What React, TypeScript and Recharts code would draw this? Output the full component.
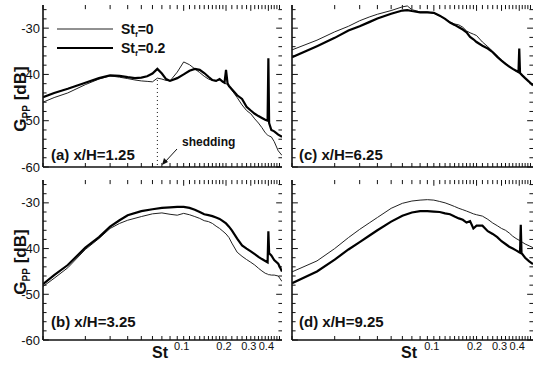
import React from 'react';
import { LineChart, Line, XAxis, YAxis, ReferenceLine } from 'recharts';

// ---------- data ----------
const ST_A = [0.01, 0.012, 0.015, 0.02, 0.025, 0.03, 0.035, 0.04, 0.045, 0.05, 0.055, 0.06, 0.065, 0.07, 0.075, 0.08, 0.09, 0.1, 0.11, 0.12, 0.13, 0.14, 0.15, 0.16, 0.17, 0.18, 0.19, 0.195, 0.2, 0.205, 0.21, 0.22, 0.24, 0.26, 0.28, 0.3, 0.32, 0.34, 0.36, 0.38, 0.395, 0.4, 0.405, 0.42, 0.44, 0.47, 0.5];
const G_A_F0 = [-46.0, -45.0, -44.0, -42.2, -41.0, -40.3, -40.6, -40.9, -41.2, -41.4, -41.5, -41.6, -40.8, -41.0, -41.3, -41.4, -39.5, -37.3, -37.9, -38.8, -39.6, -40.4, -41.0, -41.3, -41.4, -41.2, -41.6, -41.8, -42.0, -42.2, -42.6, -43.4, -45.0, -46.6, -47.8, -48.5, -49.6, -50.5, -51.5, -52.6, -53.1, -53.2, -53.3, -53.5, -54.5, -56.5, -57.5];
const G_A_F02 = [-44.9, -44.0, -43.1, -41.8, -40.8, -40.2, -40.3, -40.6, -40.8, -40.7, -40.4, -39.8, -38.8, -39.8, -41.0, -41.4, -40.8, -40.0, -39.2, -38.8, -39.0, -39.7, -40.5, -41.2, -41.4, -41.0, -41.6, -41.8, -39.0, -41.9, -42.5, -43.2, -44.5, -45.3, -47.0, -47.8, -48.5, -49.0, -49.4, -49.8, -50.0, -36.5, -50.5, -52.0, -52.3, -53.0, -53.5];

const ST_B = [0.01, 0.012, 0.015, 0.02, 0.025, 0.03, 0.035, 0.04, 0.05, 0.06, 0.07, 0.08, 0.09, 0.1, 0.11, 0.12, 0.13, 0.14, 0.15, 0.16, 0.17, 0.18, 0.19, 0.2, 0.21, 0.22, 0.24, 0.26, 0.28, 0.3, 0.32, 0.34, 0.36, 0.38, 0.395, 0.4, 0.405, 0.42, 0.44, 0.47, 0.5];
const G_B_F0 = [-48.3, -46.5, -44.2, -40.2, -37.8, -35.6, -34.5, -33.8, -33.0, -32.4, -32.2, -32.5, -32.7, -32.3, -32.6, -33.0, -33.4, -33.9, -34.1, -34.5, -35.1, -35.6, -36.2, -36.8, -37.6, -38.8, -40.8, -41.7, -42.4, -43.0, -43.6, -44.3, -44.9, -45.4, -45.6, -45.7, -45.7, -45.8, -45.8, -46.0, -47.2];
const G_B_F02 = [-47.8, -45.8, -43.6, -39.8, -37.5, -35.2, -33.8, -32.7, -31.8, -31.4, -31.1, -31.0, -30.9, -30.9, -31.1, -31.5, -32.0, -32.5, -32.7, -32.9, -33.2, -33.5, -34.0, -34.5, -35.2, -36.0, -37.8, -39.3, -40.0, -40.6, -41.2, -41.8, -42.3, -42.7, -43.0, -36.2, -41.0, -41.5, -42.5, -43.3, -45.0];

const ST_C = [0.01, 0.015, 0.02, 0.025, 0.03, 0.035, 0.04, 0.05, 0.06, 0.065, 0.07, 0.08, 0.09, 0.1, 0.11, 0.12, 0.13, 0.14, 0.15, 0.16, 0.17, 0.18, 0.19, 0.2, 0.22, 0.24, 0.26, 0.28, 0.3, 0.32, 0.34, 0.36, 0.38, 0.395, 0.4, 0.405, 0.42, 0.44, 0.47, 0.5];
const G_C_F0 = [-34.7, -32.6, -30.8, -29.6, -28.4, -27.6, -27.0, -26.2, -25.4, -25.2, -26.0, -26.5, -26.5, -26.8, -27.4, -28.0, -28.7, -29.1, -29.3, -29.8, -30.6, -31.0, -31.3, -31.6, -33.0, -34.0, -35.0, -36.0, -37.0, -37.6, -38.2, -38.8, -39.3, -39.5, -39.6, -39.8, -40.3, -40.8, -41.5, -42.2];
const G_C_F02 = [-36.3, -33.9, -32.1, -30.5, -29.6, -28.7, -27.9, -26.9, -26.2, -26.1, -26.3, -26.6, -26.6, -26.7, -27.3, -28.0, -28.8, -29.3, -29.8, -30.3, -30.9, -31.9, -32.4, -33.0, -33.8, -34.4, -35.2, -36.2, -37.0, -37.7, -38.3, -38.8, -39.2, -39.5, -34.4, -39.7, -40.2, -40.8, -41.6, -42.4];

const ST_D = [0.01, 0.015, 0.02, 0.025, 0.03, 0.035, 0.04, 0.05, 0.06, 0.07, 0.08, 0.09, 0.1, 0.11, 0.12, 0.13, 0.14, 0.15, 0.16, 0.17, 0.18, 0.19, 0.2, 0.22, 0.24, 0.26, 0.28, 0.3, 0.32, 0.34, 0.36, 0.38, 0.4, 0.405, 0.41, 0.415, 0.42, 0.44, 0.47, 0.5];
const G_D_F0 = [-45.1, -42.7, -40.0, -37.6, -35.8, -34.4, -33.2, -31.2, -30.1, -29.6, -29.4, -29.3, -29.4, -29.7, -30.0, -30.4, -30.8, -31.2, -31.5, -31.8, -32.1, -32.4, -32.6, -32.9, -33.6, -34.4, -35.0, -35.6, -36.0, -36.6, -37.3, -37.8, -38.2, -38.3, -38.4, -38.5, -38.6, -39.0, -39.4, -39.8];
const G_D_F02 = [-47.6, -45.0, -42.4, -40.2, -38.6, -37.2, -36.0, -34.1, -32.8, -32.1, -31.8, -31.8, -31.9, -32.0, -32.3, -32.5, -33.0, -33.4, -33.7, -34.3, -34.0, -35.6, -35.0, -35.0, -36.2, -36.8, -37.5, -38.4, -39.0, -39.6, -40.0, -40.4, -40.8, -40.9, -34.8, -41.0, -41.2, -42.0, -42.8, -43.4];

const X_DOMAIN = [0.01, 0.5];
const Y_DOMAIN = [-60, -25];
const X_TICKS = [0.01, 0.02, 0.03, 0.04, 0.05, 0.06, 0.07, 0.08, 0.09, 0.1, 0.11, 0.12, 0.13, 0.14, 0.15, 0.16, 0.17, 0.18, 0.19, 0.2, 0.22, 0.24, 0.26, 0.28, 0.3, 0.32, 0.34, 0.36, 0.38, 0.4, 0.42, 0.44, 0.46, 0.48];
const X_MAJOR = [0.1, 0.2, 0.3, 0.4];
const X_LABELS = ['0.1', '0.2', '0.3', '0.4'];
const Y_TICKS = [-60, -58, -56, -54, -52, -50, -48, -46, -44, -42, -40, -38, -36, -34, -32, -30, -28, -26];
const Y_LABELS = [-60, -50, -40, -30];
const SERIES_NAMES = ['0', '0.2'];
const PANEL_LABELS = ['(a) x/H=1.25', '(b) x/H=3.25', '(c) x/H=6.25', '(d) x/H=9.25'];
const SHEDDING_ST = 0.065;
const SHEDDING_G = -41.2;

const FONT = '"Liberation Sans", Arial, sans-serif';
const INK = '#111';
const TICK = -4; // negative size: tick marks point into the plot
const TM = 8;
// inward tick lengths expressed as factors / offsets in data space
const LOG_TICK_MAJOR = 1.1;
const LOG_TICK_MINOR = 1.06;
const DB_TICK = 0.9;

const makeYLabel = (showLabel: boolean) => (props: any) => {
  const { x, y, payload } = props;
  const v = payload.value;
  if (!showLabel || !Y_LABELS.includes(v)) return <g />;
  return (
    <text x={x + 1} y={y} dy={4.5} textAnchor="end" fontSize={13} fontFamily={FONT} fill={INK}>
      {String(v)}
    </text>
  );
};

const makeXLabel = (showLabel: boolean) => (props: any) => {
  const { x, y, payload } = props;
  const idx = X_MAJOR.indexOf(payload.value);
  if (!showLabel || idx < 0) return <g />;
  return (
    <text x={x - 2} y={y + 6} textAnchor="middle" fontSize={11} fontFamily={FONT} fill={INK}>
      {X_LABELS[idx]}
    </text>
  );
};

type PanelProps = {
  st: number[];
  g0: number[];
  g2: number[];
  width: number;
  height: number;
  margin: any;
  yWidth: number;
  xHeight: number;
  showY: boolean;
  showX: boolean;
  children?: any;
};

function frameTicks() {
  const out: any[] = [];
  Y_TICKS.forEach((v) => {
    const f = Y_LABELS.includes(v) ? LOG_TICK_MAJOR : LOG_TICK_MINOR;
    out.push(
      <ReferenceLine key={`yl${v}`} xAxisId="b" yAxisId="l" segment={[{ x: X_DOMAIN[0], y: v }, { x: X_DOMAIN[0] * f, y: v }]} stroke={INK} strokeWidth={1} />
    );
    out.push(
      <ReferenceLine key={`yr${v}`} xAxisId="b" yAxisId="l" segment={[{ x: X_DOMAIN[1] / f, y: v }, { x: X_DOMAIN[1], y: v }]} stroke={INK} strokeWidth={1} />
    );
  });
  X_TICKS.forEach((v) => {
    const d = X_MAJOR.includes(v) ? DB_TICK * 1.4 : DB_TICK;
    out.push(
      <ReferenceLine key={`xt${v}`} xAxisId="b" yAxisId="l" segment={[{ x: v, y: Y_DOMAIN[1] }, { x: v, y: Y_DOMAIN[1] - d }]} stroke={INK} strokeWidth={1} />
    );
  });
  return out;
}

function Panel({ st, g0, g2, width, height, margin, yWidth, xHeight, showY, showX, children }: PanelProps) {
  const d0 = st.map((s, i) => ({ st: s, g: g0[i] }));
  const d2 = st.map((s, i) => ({ st: s, g: g2[i] }));
  const axisStyle = { stroke: INK, strokeWidth: 1.6 };
  const tickStyle = { stroke: INK, strokeWidth: 1 };
  return (
    <LineChart width={width} height={height} margin={margin}>
      <XAxis
        xAxisId="b"
        dataKey="st"
        type="number"
        scale="log"
        domain={X_DOMAIN}
        allowDataOverflow
        ticks={X_TICKS}
        interval={0}
        tickSize={TICK}
        tickMargin={TM}
        tickLine={tickStyle}
        axisLine={axisStyle}
        height={xHeight}
        tick={makeXLabel(showX)}
      />
      <XAxis xAxisId="t" orientation="top" type="number" scale="log" domain={X_DOMAIN} allowDataOverflow tick={false} tickLine={false} axisLine={axisStyle} height={0} />
      <YAxis
        yAxisId="l"
        type="number"
        domain={Y_DOMAIN}
        allowDataOverflow
        ticks={Y_TICKS}
        interval={0}
        tickSize={0}
        tickMargin={4}
        tickLine={false}
        axisLine={axisStyle}
        width={yWidth}
        tick={makeYLabel(showY)}
      />
      <YAxis yAxisId="r" orientation="right" type="number" domain={Y_DOMAIN} allowDataOverflow tick={false} tickLine={false} axisLine={axisStyle} width={0} />
      {frameTicks()}
      <Line xAxisId="b" yAxisId="l" data={d0} dataKey="g" name={SERIES_NAMES[0]} stroke="#222" strokeWidth={1} dot={false} isAnimationActive={false} />
      <Line xAxisId="b" yAxisId="l" data={d2} dataKey="g" name={SERIES_NAMES[1]} stroke="#000" strokeWidth={2.2} dot={false} isAnimationActive={false} />
      {children}
    </LineChart>
  );
}

const GLabel = ({ cx, cy }: { cx: number; cy: number }) => (
  <text x={cx} y={cy} transform={`rotate(-90 ${cx} ${cy})`} textAnchor="middle" fontFamily={FONT} fontWeight="bold" fontSize={17} fill={INK}>
    G<tspan fontSize={10} dy={4}>PP</tspan>
    <tspan dy={-4}> [dB]</tspan>
  </text>
);

const StLabel = ({ x, y }: { x: number; y: number }) => (
  <text x={x} y={y} fontFamily={FONT} fontWeight="bold" fontSize={16} fill={INK}>
    St
  </text>
);

const PanelLabel = ({ x, y, text }: { x: number; y: number; text: string }) => (
  <text x={x} y={y} fontFamily={FONT} fontWeight="bold" fontSize={15} fill={INK}>
    {text}
  </text>
);

export default function App() {
  return (
    <div style={{ position: 'absolute', left: 0, top: 0, width: 534, height: 365, background: '#fff', overflow: 'hidden' }}>
      <div style={{ position: 'absolute', left: 0, top: 0 }}>
        <Panel st={ST_A} g0={G_A_F0} g2={G_A_F02} width={290} height={175} margin={{ top: 5, right: 8, bottom: 0, left: 0 }} yWidth={43} xHeight={8} showY showX={false}>
          <ReferenceLine
            xAxisId="b"
            yAxisId="l"
            segment={[{ x: SHEDDING_ST, y: SHEDDING_G }, { x: SHEDDING_ST, y: Y_DOMAIN[0] }]}
            stroke={INK}
            strokeWidth={1}
            strokeDasharray="1 3"
          />
        </Panel>
      </div>
      <div style={{ position: 'absolute', left: 0, top: 175 }}>
        <Panel st={ST_B} g0={G_B_F0} g2={G_B_F02} width={290} height={190} margin={{ top: 5, right: 8, bottom: 0, left: 0 }} yWidth={43} xHeight={25} showY showX />
      </div>
      <div style={{ position: 'absolute', left: 290, top: 0 }}>
        <Panel st={ST_C} g0={G_C_F0} g2={G_C_F02} width={244} height={175} margin={{ top: 5, right: 1, bottom: 0, left: 0 }} yWidth={2} xHeight={8} showY={false} showX={false} />
      </div>
      <div style={{ position: 'absolute', left: 290, top: 175 }}>
        <Panel st={ST_D} g0={G_D_F0} g2={G_D_F02} width={244} height={190} margin={{ top: 5, right: 1, bottom: 0, left: 0 }} yWidth={2} xHeight={25} showY={false} showX />
      </div>
      <svg width={534} height={365} style={{ position: 'absolute', left: 0, top: 0, pointerEvents: 'none' }}>
        <GLabel cx={26} cy={99} />
        <GLabel cx={26} cy={262} />
        <StLabel x={152} y={358} />
        <StLabel x={401} y={358} />
        <line x1={57} x2={113} y1={29} y2={29} stroke="#222" strokeWidth={1} />
        <line x1={57} x2={113} y1={48} y2={48} stroke="#000" strokeWidth={2.2} />
        <text x={121} y={34} fontFamily={FONT} fontWeight="bold" fontSize={14} fill={INK}>
          St<tspan fontSize={8} dy={3}>f</tspan>
          <tspan dy={-3}>={SERIES_NAMES[0]}</tspan>
        </text>
        <text x={121} y={53} fontFamily={FONT} fontWeight="bold" fontSize={14} fill={INK}>
          St<tspan fontSize={8} dy={3}>f</tspan>
          <tspan dy={-3}>={SERIES_NAMES[1]}</tspan>
        </text>
        <PanelLabel x={51} y={160} text={PANEL_LABELS[0]} />
        <PanelLabel x={51} y={327} text={PANEL_LABELS[1]} />
        <PanelLabel x={299} y={160} text={PANEL_LABELS[2]} />
        <PanelLabel x={299} y={327} text={PANEL_LABELS[3]} />
        <text x={182} y={146} fontFamily={FONT} fontWeight="bold" fontSize={12} fill={INK}>
          shedding
        </text>
        <line x1={177} y1={149} x2={165} y2={162} stroke={INK} strokeWidth={1} />
        <path d="M162,165 L164,158 L168,162 Z" fill={INK} />
      </svg>
    </div>
  );
}
